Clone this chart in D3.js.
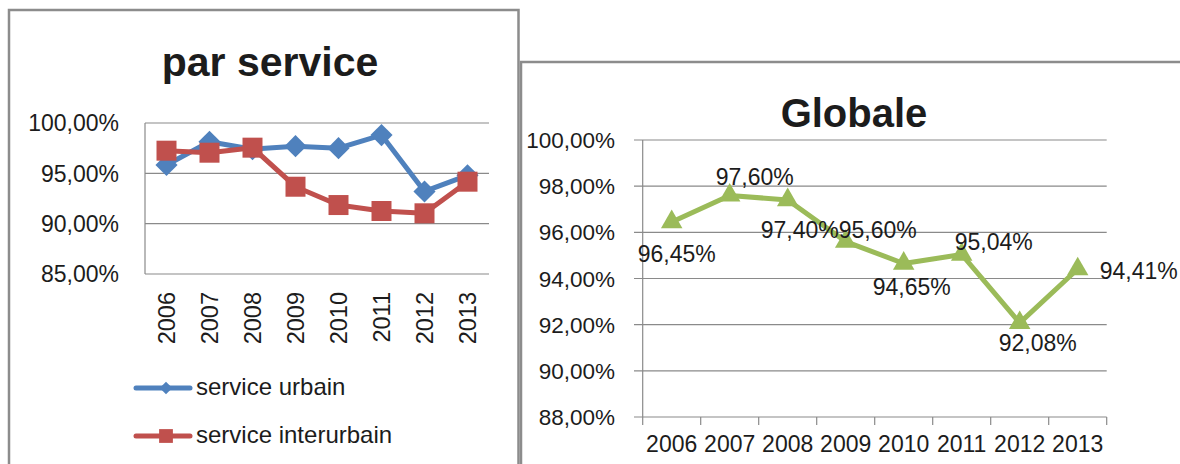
<!DOCTYPE html>
<html>
<head>
<meta charset="utf-8">
<script src="https://cdn.jsdelivr.net/npm/d3@7"></script>
<style>
  body { margin: 0; background: #fff; }
  text { font-family: "Liberation Sans", Arial, sans-serif; fill: #1c1c1c; }
</style>
</head>
<body>
<svg id="chart" width="1180" height="464"></svg>
<script>
// data
const years = ["2006", "2007", "2008", "2009", "2010", "2011", "2012", "2013"];
const urbain = [95.83, 98.14, 97.40, 97.70, 97.50, 98.80, 93.20, 94.80];
const interurbain = [97.25, 97.05, 97.55, 93.67, 91.85, 91.26, 91.03, 94.17];
const globale = [96.45, 97.60, 97.40, 95.60, 94.65, 95.04, 92.08, 94.41];
const leftTicks = [85, 90, 95, 100];
const rightTicks = [88, 90, 92, 94, 96, 98, 100];
const seriesNames = ["service urbain", "service interurbain"];

// where each data label sits relative to its point (dx, dy, anchor)
const labelOffsets = [[5, 40, "middle"], [25, -10, "middle"], [12, 38, "middle"], [32, -4, "middle"],
                      [8, 32, "middle"], [32, -4, "middle"], [18, 28, "middle"], [22, 10, "start"]];

const BLUE = "#4f81bd", RED = "#c0504d", GREEN = "#9bbb59", GRID = "#8a8a8a";
const pct = v => d3.format(".2f")(v).replace(".", ",") + "%";

const svg = d3.select("#chart");

// panel frames
svg.append("path")
    .attr("d", "M9,470 V10 H518.5 V470")
    .attr("fill", "none").attr("stroke", "#8c8c8c").attr("stroke-width", 2.5);
svg.append("path")
    .attr("d", "M521,470 V62 H1185")
    .attr("fill", "none").attr("stroke", "#8c8c8c").attr("stroke-width", 2.5);

// ---------- left chart : par service ----------
let x1 = d3.scaleBand().domain(years).range([145, 489]);
let y1 = d3.scaleLinear().domain([85, 100]).range([274, 123]);

svg.append("text")
    .attr("x", 270).attr("y", 76)
    .style("text-anchor", "middle")
    .style("font-size", "41px").style("font-weight", "bold")
    .text("par service");

let g1 = svg.append("g");
g1.selectAll(".grid1").data(leftTicks).enter().append("line")
    .attr("x1", 145).attr("x2", 489)
    .attr("y1", d => y1(d)).attr("y2", d => y1(d))
    .attr("stroke", GRID).attr("stroke-width", 1.2);
g1.append("line").attr("x1", 145).attr("x2", 145)
    .attr("y1", y1(100)).attr("y2", y1(85))
    .attr("stroke", GRID).attr("stroke-width", 1.2);

g1.selectAll(".ylab1").data(leftTicks).enter().append("text")
    .attr("x", 119).attr("y", d => y1(d)).attr("dy", "0.36em")
    .style("text-anchor", "end").style("font-size", "23px")
    .text(d => pct(d));

g1.selectAll(".xlab1").data(years).enter().append("text")
    .attr("transform", d => `translate(${x1(d) + x1.bandwidth() / 2},292) rotate(-90)`)
    .attr("dy", "0.36em")
    .style("text-anchor", "end").style("font-size", "23.5px")
    .text(d => d);

let line1 = d3.line()
    .x((d, i) => x1(years[i]) + x1.bandwidth() / 2)
    .y(d => y1(d));

const diamond = d3.symbol().type(d3.symbolSquare).size(245);
const square = d3.symbol().type(d3.symbolSquare).size(400);

g1.append("path").datum(urbain).attr("d", line1)
    .attr("fill", "none").attr("stroke", BLUE).attr("stroke-width", 5).attr("stroke-linejoin", "round");
g1.selectAll(".mu").data(urbain).enter().append("path")
    .attr("d", diamond)
    .attr("transform", (d, i) => `translate(${x1(years[i]) + x1.bandwidth() / 2},${y1(d)}) rotate(45)`)
    .attr("fill", BLUE);

g1.append("path").datum(interurbain).attr("d", line1)
    .attr("fill", "none").attr("stroke", RED).attr("stroke-width", 5).attr("stroke-linejoin", "round");
g1.selectAll(".mi").data(interurbain).enter().append("path")
    .attr("d", square)
    .attr("transform", (d, i) => `translate(${x1(years[i]) + x1.bandwidth() / 2},${y1(d)})`)
    .attr("fill", RED);

// legend
let legend = g1.selectAll(".leg").data(seriesNames).enter().append("g")
    .attr("transform", (d, i) => `translate(136,${388 + i * 48})`);
legend.append("line").attr("x1", 0).attr("x2", 54)
    .attr("stroke", (d, i) => i ? RED : BLUE).attr("stroke-width", 5).attr("stroke-linecap", "round");
legend.append("path")
    .attr("d", (d, i) => i ? d3.symbol().type(d3.symbolSquare).size(190)() : d3.symbol().type(d3.symbolSquare).size(80)())
    .attr("transform", (d, i) => `translate(30,0) rotate(${i ? 0 : 45})`)
    .attr("fill", (d, i) => i ? RED : BLUE);
legend.append("text").attr("x", 60).attr("y", 7)
    .style("font-size", "24px")
    .text(d => d);

// ---------- right chart : Globale ----------
let x2 = d3.scaleBand().domain(years).range([642.7, 1106.7]);
let y2 = d3.scaleLinear().domain([88, 100]).range([417, 140]);

svg.append("text")
    .attr("x", 854).attr("y", 127)
    .style("text-anchor", "middle")
    .style("font-size", "40px").style("font-weight", "bold")
    .text("Globale");

let g2 = svg.append("g");
g2.selectAll(".grid2").data(rightTicks).enter().append("line")
    .attr("x1", 634).attr("x2", 1106.7)
    .attr("y1", d => y2(d)).attr("y2", d => y2(d))
    .attr("stroke", GRID).attr("stroke-width", 1.2);
g2.append("line").attr("x1", 642.7).attr("x2", 642.7)
    .attr("y1", y2(100)).attr("y2", y2(88) + 8)
    .attr("stroke", GRID).attr("stroke-width", 1.2);
g2.selectAll(".xtick2").data(years).enter().append("line")
    .attr("x1", d => x2(d) + x2.bandwidth()).attr("x2", d => x2(d) + x2.bandwidth())
    .attr("y1", y2(88)).attr("y2", y2(88) + 8)
    .attr("stroke", GRID).attr("stroke-width", 1.2);

g2.selectAll(".ylab2").data(rightTicks).enter().append("text")
    .attr("x", 615).attr("y", d => y2(d)).attr("dy", "0.36em")
    .style("text-anchor", "end").style("font-size", "22.5px")
    .text(d => pct(d));

g2.selectAll(".xlab2").data(years).enter().append("text")
    .attr("x", d => x2(d) + x2.bandwidth() / 2).attr("y", 452)
    .style("text-anchor", "middle").style("font-size", "23px")
    .text(d => d);

let line2 = d3.line()
    .x((d, i) => x2(years[i]) + x2.bandwidth() / 2)
    .y(d => y2(d));

g2.append("path").datum(globale).attr("d", line2)
    .attr("fill", "none").attr("stroke", GREEN).attr("stroke-width", 5).attr("stroke-linejoin", "round");
g2.selectAll(".mg").data(globale).enter().append("path")
    .attr("d", d3.symbol().type(d3.symbolTriangle).size(200))
    .attr("transform", (d, i) => `translate(${x2(years[i]) + x2.bandwidth() / 2},${y2(d)})`)
    .attr("fill", GREEN);

g2.selectAll(".dl").data(globale).enter().append("text")
    .attr("x", (d, i) => x2(years[i]) + x2.bandwidth() / 2 + labelOffsets[i][0])
    .attr("y", (d, i) => y2(d) + labelOffsets[i][1])
    .style("text-anchor", (d, i) => labelOffsets[i][2])
    .style("font-size", "23px")
    .text(d => pct(d));
</script>
</body>
</html>
